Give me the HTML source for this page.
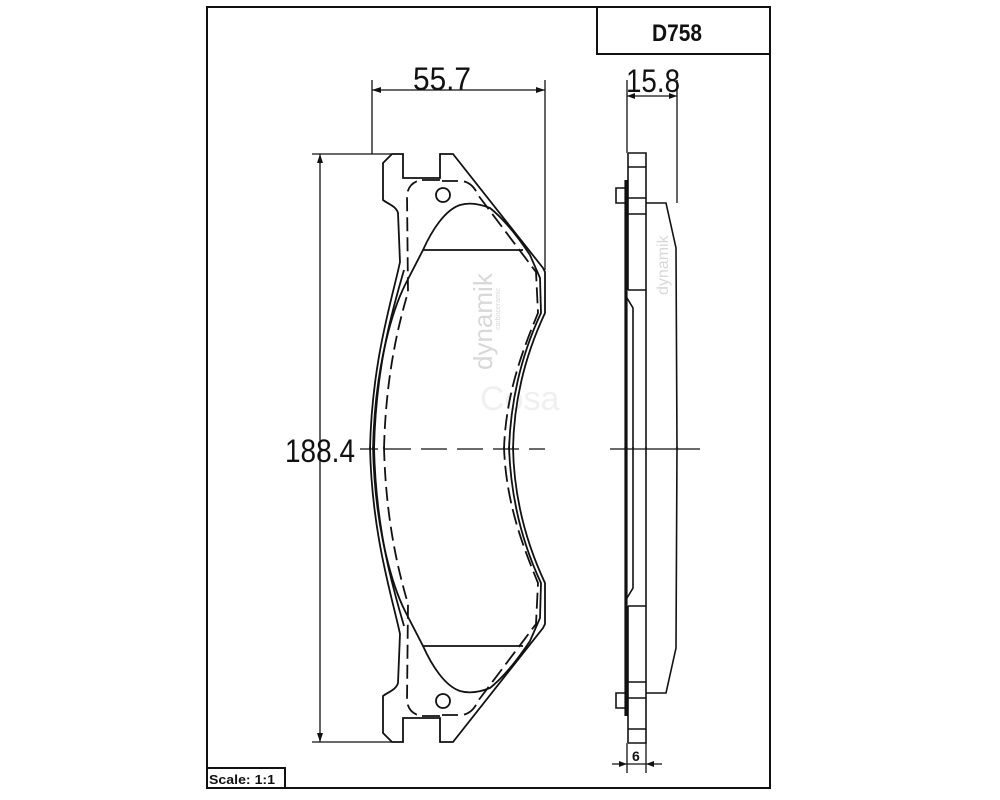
<!DOCTYPE html>
<html><head><meta charset="utf-8"><style>
html,body{margin:0;padding:0;background:#fff}
svg{display:block}
</style></head><body>
<svg width="1000" height="800" viewBox="0 0 1000 800" xmlns="http://www.w3.org/2000/svg" font-family="Liberation Sans, sans-serif">
<g fill="none" stroke="#111" stroke-width="1.6">
<rect x="207" y="7" width="563" height="781" stroke-width="2"/>
<rect x="597" y="7" width="173" height="47" stroke-width="2"/>
<rect x="207" y="768" width="78" height="20" stroke-width="2"/>
</g>
<text x="677" y="41" font-size="24" font-weight="bold" text-anchor="middle" textLength="50" lengthAdjust="spacingAndGlyphs" fill="#111">D758</text>
<text x="209" y="784" font-size="13" font-weight="bold" textLength="66" lengthAdjust="spacingAndGlyphs" fill="#111">Scale: 1:1</text>

<g fill="#d8d8d8">
<text x="0" y="0" font-size="26" transform="translate(492,370) rotate(-90)">dynamik</text>
<text x="0" y="0" font-size="7" transform="translate(500,330) rotate(-90)">carboceramic</text>
<text x="480" y="410" font-size="34" fill="#f0f0f0">Cosa</text>
<text x="0" y="0" font-size="16" transform="translate(668,295) rotate(-90)">dynamik</text>
</g>

<g stroke="#111" stroke-width="1.3" fill="none">
<line x1="372" y1="80" x2="372" y2="154"/>
<line x1="545" y1="80" x2="545" y2="270"/>
<line x1="372" y1="90" x2="545" y2="90"/>
<line x1="312" y1="154" x2="392" y2="154"/>
<line x1="312" y1="742" x2="392" y2="742"/>
<line x1="320" y1="154" x2="320" y2="742"/>
<line x1="360" y1="449" x2="378" y2="449"/>
<line x1="385" y1="449" x2="545" y2="449" stroke-dasharray="26,10"/>
<line x1="627" y1="80" x2="627" y2="153"/>
<line x1="677" y1="80" x2="677" y2="203"/>
<line x1="627" y1="96" x2="677" y2="96"/>
<line x1="610" y1="449" x2="700" y2="449"/>
<line x1="627" y1="743" x2="627" y2="773"/>
<line x1="646" y1="743" x2="646" y2="773"/>
<line x1="612" y1="764" x2="662" y2="764"/>
</g>
<g fill="#111">
<path d="M372,90 l9,-3 v6z M545,90 l-9,-3 v6z M320,154 l-3,9 h6z M320,742 l-3,-9 h6z M627,96 l8,-3 v6z M677,96 l-8,-3 v6z M627,764 l-8,-3 v6z M646,764 l8,-3 v6z"/>
</g>
<g fill="#111" font-size="32">
<text x="413" y="90" textLength="58" lengthAdjust="spacingAndGlyphs">55.7</text>
<text x="626" y="92" textLength="54" lengthAdjust="spacingAndGlyphs">15.8</text>
<text x="285" y="462" textLength="70" lengthAdjust="spacingAndGlyphs">188.4</text>
<text x="632" y="761" font-size="14" font-weight="bold">6</text>
</g>

<g id="half" fill="none" stroke="#111" stroke-width="1.8">
<path d="M370,449 C372,360 392,300 400,262 L398,213 C396,206 388,204 383,200 L383,163 L392,154 L403,154 L403,178 L440,178 L440,154 L453,154 L543,268 L545,272 L545,313 C530,345 514,390 513,449"/>
<path d="M374,449 C376,362 394,305 404,270"/>
<path d="M384,449 C386,370 400,320 408,292 L407,195 C408,186 414,181 422,180" stroke-dasharray="14,6"/>
<path d="M422,180 L440,180"/>
<path d="M442,181 L462,181 C470,182 475,188 478,195 L536,272 L538,313 C525,345 506,390 504,449" stroke-dasharray="16,6"/>
<path d="M373,449 C375,360 395,305 405,285 L423,250 C432,230 445,210 460,205 C470,202 480,204 490,208 C505,220 520,240 530,255 L540,278 L541,313 C526,345 511,390 509,449"/>
<path d="M423,250 L523,250"/>
<circle cx="443" cy="195" r="7"/>
</g>
<use href="#half" transform="translate(0,896) scale(1,-1)"/>

<g id="sideh" fill="none" stroke="#111" stroke-width="1.6">
<line x1="626" y1="180" x2="626" y2="449" stroke-width="3.2"/>
<path d="M628,153 H646 V449"/>
<path d="M628,153 V290"/>
<path d="M628,167 H646 M628,198 H646 M628,214 H646 M628,290 H646"/>
<path d="M626,188 H616 V203 H626"/>
<path d="M646,203 H666 L676,248 L677,449"/>
<path d="M627,298 L633,308 V449"/>
</g>
<use href="#sideh" transform="translate(0,896) scale(1,-1)"/>
</svg>
</body></html>
